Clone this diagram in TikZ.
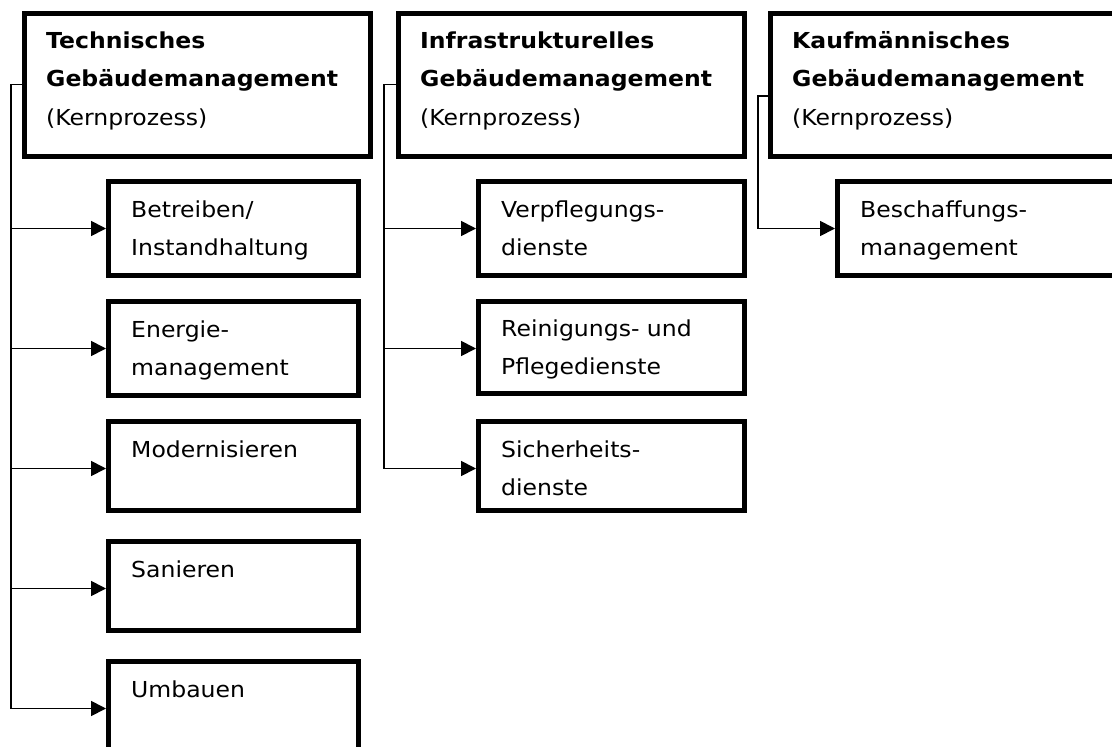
\documentclass[tikz,border=0pt]{standalone}
\usepackage{fontspec}
\setmainfont{DejaVu Sans}[FakeStretch=1.07]
\usetikzlibrary{arrows.meta}

\tikzset{
  frame/.style={draw, rectangle, line width=5pt, inner sep=0pt},
  label text/.style={anchor=base west, inner sep=0pt, font=\fontsize{22}{38.7}\selectfont},
  conn/.style={line width=1.8pt},
  arr/.style={line width=1.8pt, -{Triangle[length=15pt,width=15pt]}},
}
\newcommand{\lines}[1]{\parbox[t]{330pt}{\raggedright #1}}

\begin{document}
\begin{tikzpicture}[x=1pt, y=-1pt]
\useasboundingbox (0,0) rectangle (1112,747);
\clip (0,0) rectangle (1112,747);

% core process boxes
\node[frame, minimum width=346pt, minimum height=143pt] (tech) at (197.5,84.5) {};
\node[frame, minimum width=346pt, minimum height=143pt] (infra) at (571.5,84.5) {};
\node[frame, minimum width=354.5pt, minimum height=143pt] (kauf) at (947.75,84.5) {};

\node[label text] (techtxt) at (46,48) {\lines{\textbf{Technisches}\\\textbf{Gebäudemanagement}\\(Kernprozess)}};
\node[label text] (infratxt) at (420,48) {\lines{\textbf{Infrastrukturelles}\\\textbf{Gebäudemanagement}\\(Kernprozess)}};
\node[label text] (kauftxt) at (792,48) {\lines{\textbf{Kaufmännisches}\\\textbf{Gebäudemanagement}\\(Kernprozess)}};

% technical services
\node[frame, minimum width=250pt, minimum height=94pt] (betr) at (233.5,228.5) {};
\node[frame, minimum width=250pt, minimum height=94pt] (ener) at (233.5,348.5) {};
\node[frame, minimum width=250pt, minimum height=89pt] (mod) at (233.5,466) {};
\node[frame, minimum width=250pt, minimum height=89pt] (san) at (233.5,586) {};
\node[frame, minimum width=250pt, minimum height=110pt] (umb) at (233.5,716.5) {};

\node[label text] (betrtxt) at (131,217) {\lines{Betreiben/\\Instandhaltung}};
\node[label text] (enertxt) at (131,337) {\lines{Energie-\\management}};
\node[label text] (modtxt) at (131,457) {\lines{Modernisieren}};
\node[label text] (santxt) at (131,577) {\lines{Sanieren}};
\node[label text] (umbtxt) at (131,697) {\lines{Umbauen}};

% infrastructural services
\node[frame, minimum width=266pt, minimum height=94pt] (verp) at (611.5,228.5) {};
\node[frame, minimum width=266pt, minimum height=92pt] (rein) at (611.5,347.5) {};
\node[frame, minimum width=266pt, minimum height=89pt] (sich) at (611.5,466) {};

\node[label text] (verptxt) at (501,217) {\lines{Verpflegungs-\\dienste}};
\node[label text] (reintxt) at (501,336) {\lines{Reinigungs- und\\Pflegedienste}};
\node[label text] (sichtxt) at (501,457) {\lines{Sicherheits-\\dienste}};

% commercial services
\node[frame, minimum width=287.5pt, minimum height=94pt] (besch) at (981.25,228.5) {};
\node[label text] (beschtxt) at (860,217) {\lines{Beschaffungs-\\management}};

% connectors, technical column
\coordinate (ta) at (11,84.5);
\coordinate (tb) at (11,708.5);
\draw[conn] (tech.west) -- (ta) -- (tb);
\draw[arr] (ta |- 0,228.5) -- (betr.west |- 0,228.5);
\draw[arr] (ta |- 0,348.5) -- (ener.west |- 0,348.5);
\draw[arr] (ta |- 0,468.5) -- (mod.west |- 0,468.5);
\draw[arr] (ta |- 0,588.5) -- (san.west |- 0,588.5);
\draw[arr] (tb) -- (umb.west |- tb);

% connectors, infrastructural column
\coordinate (ia) at (384,84.5);
\coordinate (ib) at (384,468.5);
\draw[conn] (infra.west) -- (ia) -- (ib);
\draw[arr] (ia |- 0,228.5) -- (verp.west |- 0,228.5);
\draw[arr] (ia |- 0,348.5) -- (rein.west |- 0,348.5);
\draw[arr] (ib) -- (sich.west |- ib);

% connector, commercial column
\coordinate (ka) at (758,96);
\coordinate (kb) at (758,228.5);
\draw[conn] (kauf.west |- ka) -- (ka) -- (kb);
\draw[arr] (kb) -- (besch.west |- kb);
\end{tikzpicture}
\end{document}
